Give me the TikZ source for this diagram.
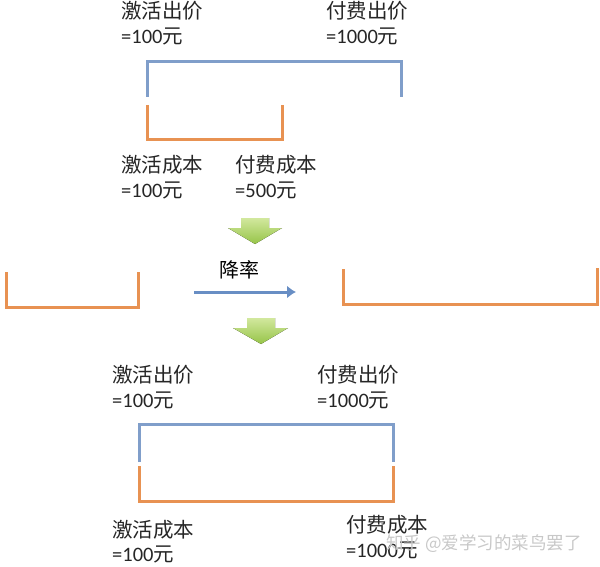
\documentclass[tikz,border=0pt]{standalone}
\usepackage{fontspec}
\setmainfont{Carlito}
\newfontfamily\cjk{Noto Sans CJK SC}
\usetikzlibrary{arrows.meta}
\definecolor{bblue}{RGB}{128,158,202}
\definecolor{borange}{RGB}{232,146,82}
\definecolor{glight}{RGB}{210,232,158}
\definecolor{gdark}{RGB}{150,196,72}
\definecolor{arrblue}{RGB}{104,142,196}
\definecolor{wmgray}{RGB}{200,200,200}
\begin{document}
\begin{tikzpicture}[x=1pt,y=-1pt,
  lbl/.style={anchor=base west,inner sep=0pt,text=black!85,font=\fontsize{20.5}{24}\selectfont},
  wm/.style={anchor=base west,inner sep=0pt,text=wmgray,font=\fontsize{17.5}{20}\selectfont},
  bluebr/.style={draw=bblue,line width=3pt},
  orangebr/.style={draw=borange,line width=3pt},
  greenarrow/.style={top color=glight,bottom color=gdark,draw=none},
  flowarrow/.style={draw=arrblue,line width=3pt,-{Latex[length=9pt,width=13pt]}}
]
\useasboundingbox (0,0) rectangle (600,567);

% ---- top section ----
\node[lbl] (tbA1) at (121,19) {\cjk 激活出价};
\node[lbl] (tbA2) at (121,44) {=100{\cjk 元}};
\node[lbl] (tbP1) at (326,19) {\cjk 付费出价};
\node[lbl] (tbP2) at (326,44) {=1000{\cjk 元}};
\draw[bluebr] (147,97) -- (147,62) -- (401,62) -- (401,97);
\draw[orangebr] (147,105) -- (147,140) -- (282,140) -- (282,105);
\node[lbl] (tcA1) at (121,172) {\cjk 激活成本};
\node[lbl] (tcA2) at (121,197) {=100{\cjk 元}};
\node[lbl] (tcP1) at (235,172) {\cjk 付费成本};
\node[lbl] (tcP2) at (235,197) {=500{\cjk 元}};

% ---- middle ----
\fill[greenarrow] (241,218) -- (269,218) -- (269,228) -- (282,228) -- (255,244) -- (228,228) -- (241,228) -- cycle;
\node[font=\cjk\fontsize{20}{22}\selectfont,inner sep=0pt] (rate) at (239,270) {降率};
\draw[orangebr] (6,272) -- (6,307) -- (138,307) -- (138,272);
\draw[orangebr] (343,269) -- (343,304) -- (597,304) -- (597,268);
\coordinate (af) at (194,292);
\coordinate (at) at (296,292);
\draw[flowarrow] (af) -- (at);
\fill[greenarrow] (247,318) -- (275,318) -- (275,328) -- (288,328) -- (261,344) -- (233,328) -- (247,328) -- cycle;

% ---- bottom section ----
\node[lbl] (bbA1) at (112,382) {\cjk 激活出价};
\node[lbl] (bbA2) at (112,407) {=100{\cjk 元}};
\node[lbl] (bbP1) at (317,382) {\cjk 付费出价};
\node[lbl] (bbP2) at (317,407) {=1000{\cjk 元}};
\draw[bluebr] (139,462) -- (139,424) -- (393,424) -- (393,462);
\draw[orangebr] (139,466) -- (139,501) -- (393,501) -- (393,466);
\node[lbl] (bcA1) at (112,537) {\cjk 激活成本};
\node[lbl] (bcA2) at (112,561) {=100{\cjk 元}};
\node[lbl] (bcP1) at (346,532) {\cjk 付费成本};
\node[lbl] (bcP2) at (346,557) {=1000{\cjk 元}};
\node[wm] (wmark) at (386,549) {\cjk 知乎 @爱学习的菜鸟罢了};
\end{tikzpicture}
\end{document}
